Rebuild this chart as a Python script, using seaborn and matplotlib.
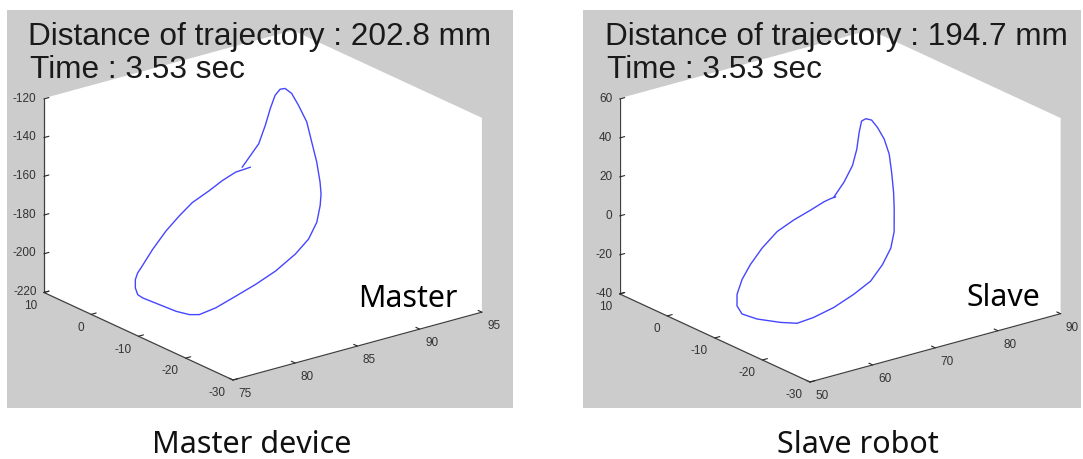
import numpy as np
import matplotlib
matplotlib.use("Agg")
import matplotlib.pyplot as plt
import seaborn as sns
from matplotlib.patches import Rectangle

# ---- trajectory of the master device (mm) ----
master_x = [84.85, 86.56, 87.47, 88.25, 89.02, 89.42, 89.82, 90.35, 90.89, 91.18,
            91.58, 91.60, 91.87, 91.95, 91.50, 90.85, 89.81, 88.37, 86.02, 84.04,
            82.06, 80.46, 79.13, 78.33, 77.64, 76.68, 75.72, 75.70, 75.51, 75.51,
            75.70, 75.97, 76.90, 77.97, 79.41, 80.47, 81.81, 83.25, 84.32, 85.52]
master_y = [-6, -5, -4, -3, -2, -2, -2, -2, -2, -3,
            -3, -4, -4, -4, -5, -6, -7, -8, -10, -11,
            -12, -12, -12, -12, -11, -10, -9, -8, -8, -8,
            -8, -8, -8, -8, -7, -7, -7, -6, -6, -6]
master_z = [-154.5, -146.5, -139.7, -133.5, -129.1, -126.7, -127.0, -130.5, -137.5, -145.5,
            -156.6, -165.8, -176.7, -182.9, -187.0, -193.4, -199.1, -203.2, -205.6, -207.9,
            -209.4, -212.6, -213.8, -212.4, -210.6, -206.6, -202.6, -202.0, -198.2, -193.9,
            -190.7, -188.6, -180.7, -173.1, -169.0, -163.9, -160.2, -158.6, -156.1, -155.6]

# ---- trajectory of the slave robot (mm) ----
slave_x = [70.54, 72.90, 75.01, 76.46, 77.59, 78.74, 79.43, 80.34, 81.30, 82.36,
           82.39, 82.78, 82.33, 82.43, 81.66, 80.37, 78.28, 75.64, 71.44, 66.72,
           62.75, 60.10, 57.42, 53.70, 52.06, 52.02, 52.79, 54.35, 55.68, 57.55,
           60.72, 63.37, 66.04, 68.94, 70.01, 70.81]
slave_y = [-8, -7, -6, -5, -4, -3, -3, -3, -3, -3,
           -4, -4, -5, -5, -6, -7, -8, -9, -11, -13,
           -14, -14, -14, -14, -13, -12, -11, -10, -10, -10,
           -9, -9, -9, -8, -8, -8]
slave_z = [12.1, 16.5, 22.0, 28.0, 34.4, 38.2, 38.8, 37.3, 32.6, 25.7,
           19.2, 9.5, 0.9, -7.6, -17.7, -23.9, -29.4, -34.4, -35.2, -35.6,
           -36.1, -36.8, -34.0, -29.0, -26.1, -23.0, -18.9, -13.8, -7.3, -0.5,
           4.1, 7.7, 10.4, 11.0, 11.7, 11.9]

master_xticks = [75, 80, 85, 90, 95]
master_yticks = [-30, -20, -10, 0, 10]
master_zticks = [-220, -200, -180, -160, -140, -120]
slave_xticks = [50, 60, 70, 80, 90]
slave_yticks = [-30, -20, -10, 0, 10]
slave_zticks = [-40, -20, 0, 20, 40, 60]

master_distance = 202.8
slave_distance = 194.7
elapsed_time = 3.53

# ---- styling ----
sns.set_theme(style="white")
plt.rcParams["font.family"] = ["Liberation Sans", "DejaVu Sans"]
plt.rcParams["axes.unicode_minus"] = False

W, H = 1083, 459
DPI = 100
PANEL_GRAY = "#cccccc"
TRACE_BLUE = "#4646ff"
AXIS_GRAY = "#404040"
TICK_TEXT = "#333333"

fig = plt.figure(figsize=(W / DPI, H / DPI), dpi=DPI, facecolor="white")


def fx(px):
    return px / W


def fy(py):
    return 1 - py / H


def project_px(ax, pt):
    M = ax.M
    v = M @ np.array([pt[0], pt[1], pt[2], 1.0])
    x2, y2 = v[0] / v[3], v[1] / v[3]
    return np.array(ax.transData.transform((x2, y2)))


def fit_box(ax, front, left, right, target_front, target_span):
    """Scale and move the 3D axes so its floor corners land where wanted."""
    for _ in range(2):
        fig.canvas.draw()
        pos = ax.get_position()
        x0, y0 = pos.x0 * W, pos.y0 * H
        f = project_px(ax, front)
        l = project_px(ax, left)
        r = project_px(ax, right)
        k = target_span / (r[0] - l[0])
        nx0 = target_front[0] - k * (f[0] - x0)
        ny0 = (H - target_front[1]) - k * (f[1] - y0)
        ax.set_position([nx0 / W, ny0 / H, k * pos.width, k * pos.height])


def align_tick_labels(ax):
    for t in ax.xaxis.get_major_ticks():
        t.label1.set_horizontalalignment("left")
    for t in ax.yaxis.get_major_ticks():
        t.label1.set_horizontalalignment("right")
    for t in ax.zaxis.get_major_ticks():
        t.label1.set_horizontalalignment("right")
        t.label1.set_verticalalignment("center")


def draw_panel(panel_px, xs, ys, zs, xt, yt, zt, corners_px, dist, tag, tag_px,
               text_px, caption, caption_px):
    x0, y0, x1, y1 = panel_px
    fig.patches.append(Rectangle((fx(x0), fy(y1)), fx(x1 - x0), (y1 - y0) / H,
                                 transform=fig.transFigure, facecolor=PANEL_GRAY,
                                 edgecolor="none", zorder=-5))
    side = 400
    cx, cy = (x0 + x1) / 2, (y0 + y1) / 2
    ax = fig.add_axes([fx(cx - side / 2), fy(cy + side / 2), side / W, side / H],
                      projection="3d", proj_type="ortho")
    ax.set_facecolor("none")
    ax.view_init(elev=20.8, azim=-127.5)
    ax.set_box_aspect((1.0, 0.99, 0.66))
    ax.plot(xs, ys, zs, color=TRACE_BLUE, lw=1.0)
    ax.set_xlim(xt[0], xt[-1])
    ax.set_ylim(yt[0], yt[-1])
    ax.set_zlim(zt[0], zt[-1])
    ax.set_xticks(xt)
    ax.set_yticks(yt)
    ax.set_zticks(zt)
    ax.grid(False)
    for axis in (ax.xaxis, ax.yaxis, ax.zaxis):
        axis.set_pane_color((1, 1, 1, 1))
        axis.pane.set_edgecolor("white")
        axis.line.set_color(AXIS_GRAY)
        axis.line.set_linewidth(0.9)
        axis._axinfo["tick"]["inward_factor"] = 0.0
        axis._axinfo["tick"]["outward_factor"] = 0.25
        axis._axinfo["tick"]["color"] = AXIS_GRAY
        axis._axinfo["tick"]["linewidth"] = {True: 0.8, False: 0.5}
    ax.tick_params(axis="x", labelsize=8.5, labelcolor=TICK_TEXT, pad=-3)
    ax.tick_params(axis="y", labelsize=8.5, labelcolor=TICK_TEXT, pad=-3)
    ax.tick_params(axis="z", labelsize=8.5, labelcolor=TICK_TEXT, pad=-5)
    align_tick_labels(ax)

    front = (xt[0], yt[0], zt[0])
    left = (xt[0], yt[-1], zt[0])
    right = (xt[-1], yt[0], zt[0])
    fit_box(ax, front, left, right, corners_px[0], corners_px[2][0] - corners_px[1][0])
    align_tick_labels(ax)

    tx, ty = text_px
    fig.text(fx(tx), fy(ty), f"Distance of trajectory : {dist:.1f} mm", fontsize=22.7,
             color="#1a1a1a", va="baseline", ha="left", zorder=10)
    fig.text(fx(tx + 2), fy(ty + 33), f"Time : {elapsed_time:.2f} sec", fontsize=22.7,
             color="#1a1a1a", va="baseline", ha="left", zorder=10)
    fig.text(fx(tag_px[0]), fy(tag_px[1]), tag, fontsize=21.8, family="Noto Sans",
             color="black", va="baseline", ha="left", zorder=10)
    fig.text(fx(caption_px[0]), fy(caption_px[1]), caption, fontsize=22, family="Noto Sans",
             color="#111111", va="baseline", ha="center", zorder=10)
    return ax


draw_panel((7, 10, 513, 408), master_x, master_y, master_z,
           master_xticks, master_yticks, master_zticks,
           [(233, 380), (45, 293), (483, 313)], master_distance,
           "Master", (358, 307), (28, 45), "Master device", (251.5, 453))
draw_panel((583, 10, 1081, 408), slave_x, slave_y, slave_z,
           slave_xticks, slave_yticks, slave_zticks,
           [(810, 382), (619, 293), (1060, 313)], slave_distance,
           "Slave", (967, 306), (605, 45), "Slave robot", (858, 453))

fig.savefig("out.png", dpi=DPI, facecolor="white")
